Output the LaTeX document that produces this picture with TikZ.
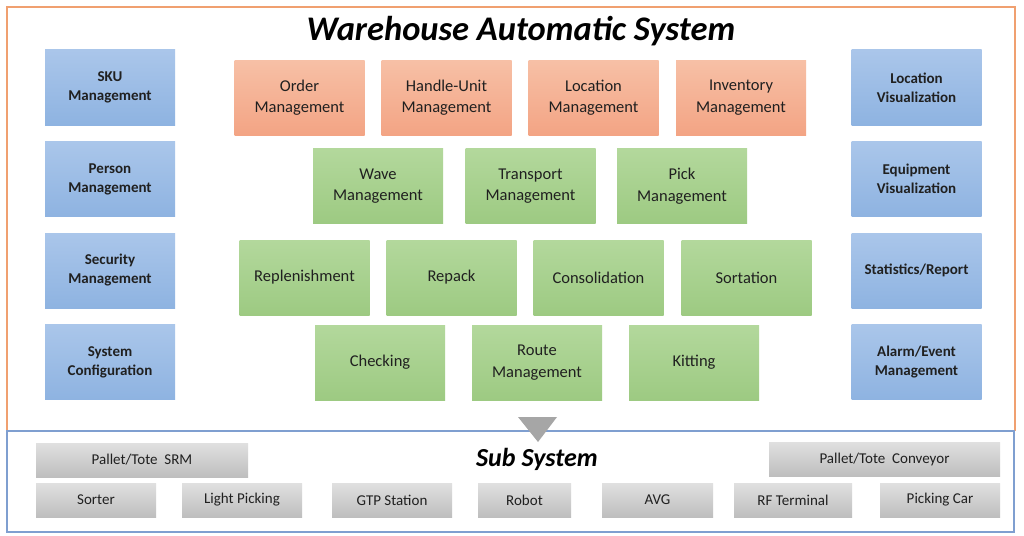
\documentclass[tikz,border=0pt]{standalone}
\usepackage{fontspec}
\setmainfont{Carlito}
\definecolor{txt}{HTML}{202020}
\definecolor{frameor}{HTML}{F0A070}
\definecolor{framebl}{HTML}{7F9FD0}
\definecolor{bltop}{HTML}{AAC6EA}
\definecolor{blbot}{HTML}{8EB3E1}
\definecolor{ortop}{HTML}{F7C0A6}
\definecolor{orbot}{HTML}{F3A484}
\definecolor{grtop}{HTML}{B3D89C}
\definecolor{grbot}{HTML}{9DCA82}
\definecolor{gytop}{HTML}{E0E0E0}
\definecolor{gybot}{HTML}{BEBEBE}
\definecolor{tri}{HTML}{A6A6A6}
\tikzset{
  box/.style={minimum width=130pt, minimum height=75pt, inner sep=0pt, align=center, text=txt},
  bluebox/.style={box, top color=bltop, bottom color=blbot, font=\bfseries\fontsize{15}{19}\selectfont},
  orbox/.style={box, top color=ortop, bottom color=orbot, font=\fontsize{16.5}{21.5}\selectfont},
  grbox/.style={box, top color=grtop, bottom color=grbot, font=\fontsize{16.5}{21.5}\selectfont},
  gybox/.style={minimum height=34pt, inner sep=0pt, align=center, text=txt, top color=gytop, bottom color=gybot, font=\fontsize{15}{18}\selectfont},
  ttl/.style={font=\bfseries\itshape, text=black, inner sep=0pt}
}
\begin{document}
\begin{tikzpicture}[x=1pt,y=-1pt]
\useasboundingbox (0,0) rectangle (1024,535);
\fill[white] (0,0) rectangle (1024,535);
% frames
\draw[frameor, line width=1.2pt] (7,431) -- (7,7) -- (1015,7) -- (1015,431);
\draw[framebl, line width=1.2pt] (7,431) rectangle (1014,532);
\node[ttl, font=\bfseries\itshape\fontsize{34.5}{38}\selectfont] (title) at (521,31) {Warehouse Automatic System};
% left blue
\node[bluebox] (sku) at (110,87.5) {SKU\\Management};
\node[bluebox] (person) at (110,179) {Person\\Management};
\node[bluebox] (security) at (110,270.5) {Security\\Management};
\node[bluebox] (sysconf) at (110,362) {System\\Configuration};
% right blue
\node[bluebox] (locvis) at (916.5,87.5) {Location\\Visualization};
\node[bluebox] (eqvis) at (916.5,179) {Equipment\\Visualization};
\node[bluebox] (stat) at (916.5,270.5) {Statistics/Report};
\node[bluebox] (alarm) at (916.5,362) {Alarm/Event\\Management};
% orange row
\node[orbox] (order) at (299.5,97.5) {Order\\Management};
\node[orbox] (hu) at (446.5,97.5) {Handle-Unit\\Management};
\node[orbox] (loc) at (593.5,97.5) {Location\\Management};
\node[orbox] (inv) at (741,97.5) {Inventory\\Management};
% green row 1
\node[grbox] (wave) at (378,186) {Wave\\Management};
\node[grbox] (transport) at (530.5,186) {Transport\\Management};
\node[grbox] (pick) at (682,186) {Pick\\Management};
% green row 2
\node[grbox] (replen) at (304.5,277.5) {Replenishment};
\node[grbox] (repack) at (451.5,277.5) {Repack};
\node[grbox] (consol) at (598.5,277.5) {Consolidation};
\node[grbox] (sortation) at (746.5,277.5) {Sortation};
% green row 3
\node[grbox] (checking) at (380,362.5) {Checking};
\node[grbox] (route) at (537,362.5) {Route\\Management};
\node[grbox] (kitting) at (694,362.5) {Kitting};
% triangle
\coordinate (tl) at (518,417);
\coordinate (tr) at (557,417);
\coordinate (tb) at (538,442);
\fill[tri] (tl) -- (tr) -- (tb) -- cycle;
\node[ttl, font=\bfseries\itshape\fontsize{26}{30}\selectfont] (subtitle) at (537,459) {Sub System};
% gray boxes
\node[gybox, minimum width=212pt] (srm) at (142,460) {Pallet/Tote\ \ SRM};
\node[gybox, minimum width=120pt] (sorter) at (96,500) {Sorter};
\node[gybox, minimum width=120pt] (light) at (242,500) {Light Picking};
\node[gybox, minimum width=120pt] (gtp) at (392,500) {GTP Station};
\node[gybox, minimum width=93pt] (robot) at (524.5,500) {Robot};
\node[gybox, minimum width=111pt] (avg) at (657.5,500) {AVG};
\node[gybox, minimum width=118pt] (rf) at (793,500) {RF Terminal};
\node[gybox, minimum width=120pt] (car) at (940,500) {Picking Car};
\node[gybox, minimum width=231pt] (conv) at (884.5,459) {Pallet/Tote\ \ Conveyor};
\end{tikzpicture}
\end{document}
